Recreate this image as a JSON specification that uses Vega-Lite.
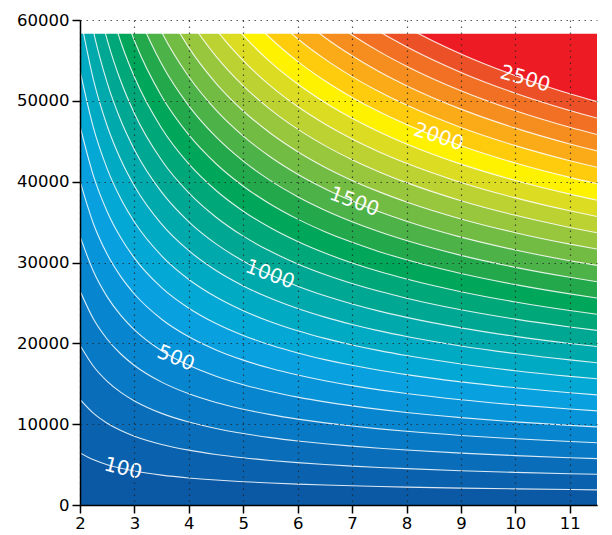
{
  "$schema": "https://vega.github.io/schema/vega-lite/v6.json",
  "width": 517,
  "height": 485,
  "autosize": "none",
  "padding": {"left": 80, "top": 20, "right": 15, "bottom": 30},
  "background": "white",
  "config": {
    "view": {"stroke": null},
    "axis": {
      "grid": true,
      "gridColor": "#222222",
      "gridDash": [1.5, 4.5],
      "gridWidth": 1.2,
      "gridOpacity": 0.75,
      "domainColor": "black",
      "domainWidth": 1.5,
      "tickColor": "black",
      "tickWidth": 1.5,
      "tickSize": 8,
      "labelFont": "DejaVu Sans",
      "labelFontSize": 16.5,
      "labelColor": "black",
      "labelFlush": false,
      "labelOverlap": false,
      "title": null
    }
  },
  "datasets": {
    "bands": [
      {"x":7.5,"l":2500,"y":73549},{"x":8,"l":2500,"y":71182},{"x":9,"l":2500,"y":67197},{"x":10,"l":2500,"y":63970},{"x":11,"l":2500,"y":61285},{"x":11.5,"l":2500,"y":60104},
      {"x":7,"l":2400,"y":63312},{"x":7.5,"l":2400,"y":61068},{"x":8,"l":2400,"y":59103},{"x":9,"l":2400,"y":55794},{"x":10,"l":2400,"y":53114},{"x":11,"l":2400,"y":50885},{"x":11.5,"l":2400,"y":49904},
      {"x":6.5,"l":2300,"y":63203},{"x":7,"l":2300,"y":60728},{"x":7.5,"l":2300,"y":58577},{"x":8,"l":2300,"y":56692},{"x":9,"l":2300,"y":53518},{"x":10,"l":2300,"y":50948},{"x":11,"l":2300,"y":48810},{"x":11.5,"l":2300,"y":47869},
      {"x":6,"l":2200,"y":63291},{"x":6.5,"l":2200,"y":60519},{"x":7,"l":2200,"y":58148},{"x":7.5,"l":2200,"y":56089},{"x":8,"l":2200,"y":54284},{"x":9,"l":2200,"y":51245},{"x":10,"l":2200,"y":48784},{"x":11,"l":2200,"y":46737},{"x":11.5,"l":2200,"y":45835},
      {"x":5.5,"l":2100,"y":63635},{"x":6,"l":2100,"y":60485},{"x":6.5,"l":2100,"y":57836},{"x":7,"l":2100,"y":55570},{"x":7.5,"l":2100,"y":53602},{"x":8,"l":2100,"y":51877},{"x":9,"l":2100,"y":48973},{"x":10,"l":2100,"y":46621},{"x":11,"l":2100,"y":44664},{"x":11.5,"l":2100,"y":43803},
      {"x":5,"l":2000,"y":64326},{"x":5.5,"l":2000,"y":60686},{"x":6,"l":2000,"y":57682},{"x":6.5,"l":2000,"y":55156},{"x":7,"l":2000,"y":52995},{"x":7.5,"l":2000,"y":51118},{"x":8,"l":2000,"y":49473},{"x":9,"l":2000,"y":46704},{"x":10,"l":2000,"y":44461},{"x":11,"l":2000,"y":42595},{"x":11.5,"l":2000,"y":41773},
      {"x":4.5,"l":1900,"y":65507},{"x":5,"l":1900,"y":61203},{"x":5.5,"l":1900,"y":57740},{"x":6,"l":1900,"y":54881},{"x":6.5,"l":1900,"y":52478},{"x":7,"l":1900,"y":50422},{"x":7.5,"l":1900,"y":48636},{"x":8,"l":1900,"y":47071},{"x":9,"l":1900,"y":44436},{"x":10,"l":1900,"y":42302},{"x":11,"l":1900,"y":40527},{"x":11.5,"l":1900,"y":39745},
      {"x":4,"l":1800,"y":67424},{"x":4.5,"l":1800,"y":62168},{"x":5,"l":1800,"y":58084},{"x":5.5,"l":1800,"y":54797},{"x":6,"l":1800,"y":52084},{"x":6.5,"l":1800,"y":49803},{"x":7,"l":1800,"y":47852},{"x":7.5,"l":1800,"y":46157},{"x":8,"l":1800,"y":44672},{"x":9,"l":1800,"y":42171},{"x":10,"l":1800,"y":40146},{"x":11,"l":1800,"y":38461},{"x":11.5,"l":1800,"y":37719},
      {"x":4,"l":1700,"y":63807},{"x":4.5,"l":1700,"y":58833},{"x":5,"l":1700,"y":54967},{"x":5.5,"l":1700,"y":51857},{"x":6,"l":1700,"y":49290},{"x":6.5,"l":1700,"y":47131},{"x":7,"l":1700,"y":45285},{"x":7.5,"l":1700,"y":43681},{"x":8,"l":1700,"y":42275},{"x":9,"l":1700,"y":39908},{"x":10,"l":1700,"y":37992},{"x":11,"l":1700,"y":36397},{"x":11.5,"l":1700,"y":35696},
      {"x":3.5,"l":1600,"y":66495},{"x":4,"l":1600,"y":60193},{"x":4.5,"l":1600,"y":55501},{"x":5,"l":1600,"y":51854},{"x":5.5,"l":1600,"y":48920},{"x":6,"l":1600,"y":46498},{"x":6.5,"l":1600,"y":44461},{"x":7,"l":1600,"y":42720},{"x":7.5,"l":1600,"y":41207},{"x":8,"l":1600,"y":39881},{"x":9,"l":1600,"y":37648},{"x":10,"l":1600,"y":35840},{"x":11,"l":1600,"y":34336},{"x":11.5,"l":1600,"y":33674},
      {"x":3,"l":1500,"y":70991},{"x":3.5,"l":1500,"y":62508},{"x":4,"l":1500,"y":56584},{"x":4.5,"l":1500,"y":52173},{"x":5,"l":1500,"y":48745},{"x":5.5,"l":1500,"y":45986},{"x":6,"l":1500,"y":43710},{"x":6.5,"l":1500,"y":41795},{"x":7,"l":1500,"y":40158},{"x":7.5,"l":1500,"y":38736},{"x":8,"l":1500,"y":37490},{"x":9,"l":1500,"y":35391},{"x":10,"l":1500,"y":33691},{"x":11,"l":1500,"y":32277},{"x":11.5,"l":1500,"y":31655},
      {"x":3,"l":1400,"y":66468},{"x":3.5,"l":1400,"y":58525},{"x":4,"l":1400,"y":52979},{"x":4.5,"l":1400,"y":48849},{"x":5,"l":1400,"y":45639},{"x":5.5,"l":1400,"y":43056},{"x":6,"l":1400,"y":40925},{"x":6.5,"l":1400,"y":39133},{"x":7,"l":1400,"y":37600},{"x":7.5,"l":1400,"y":36268},{"x":8,"l":1400,"y":35101},{"x":9,"l":1400,"y":33136},{"x":10,"l":1400,"y":31545},{"x":11,"l":1400,"y":30221},{"x":11.5,"l":1400,"y":29638},
      {"x":2.75,"l":1300,"y":67033},{"x":3,"l":1300,"y":61952},{"x":3.5,"l":1300,"y":54549},{"x":4,"l":1300,"y":49379},{"x":4.5,"l":1300,"y":45529},{"x":5,"l":1300,"y":42538},{"x":5.5,"l":1300,"y":40131},{"x":6,"l":1300,"y":38144},{"x":6.5,"l":1300,"y":36473},{"x":7,"l":1300,"y":35045},{"x":7.5,"l":1300,"y":33804},{"x":8,"l":1300,"y":32716},{"x":9,"l":1300,"y":30884},{"x":10,"l":1300,"y":29401},{"x":11,"l":1300,"y":28167},{"x":11.5,"l":1300,"y":27624},
      {"x":2.5,"l":1200,"y":68234},{"x":2.75,"l":1200,"y":62153},{"x":3,"l":1200,"y":57441},{"x":3.5,"l":1200,"y":50577},{"x":4,"l":1200,"y":45784},{"x":4.5,"l":1200,"y":42215},{"x":5,"l":1200,"y":39441},{"x":5.5,"l":1200,"y":37209},{"x":6,"l":1200,"y":35367},{"x":6.5,"l":1200,"y":33818},{"x":7,"l":1200,"y":32493},{"x":7.5,"l":1200,"y":31342},{"x":8,"l":1200,"y":30334},{"x":9,"l":1200,"y":28636},{"x":10,"l":1200,"y":27261},{"x":11,"l":1200,"y":26117},{"x":11.5,"l":1200,"y":25613},
      {"x":2.25,"l":1100,"y":70443},{"x":2.5,"l":1100,"y":62885},{"x":2.75,"l":1100,"y":57280},{"x":3,"l":1100,"y":52938},{"x":3.5,"l":1100,"y":46612},{"x":4,"l":1100,"y":42194},{"x":4.5,"l":1100,"y":38905},{"x":5,"l":1100,"y":36349},{"x":5.5,"l":1100,"y":34292},{"x":6,"l":1100,"y":32594},{"x":6.5,"l":1100,"y":31167},{"x":7,"l":1100,"y":29946},{"x":7.5,"l":1100,"y":28885},{"x":8,"l":1100,"y":27956},{"x":9,"l":1100,"y":26391},{"x":10,"l":1100,"y":25123},{"x":11,"l":1100,"y":24069},{"x":11.5,"l":1100,"y":23605},
      {"x":2,"l":1000,"y":74349},{"x":2.25,"l":1000,"y":64460},{"x":2.5,"l":1000,"y":57544},{"x":2.75,"l":1000,"y":52415},{"x":3,"l":1000,"y":48442},{"x":3.5,"l":1000,"y":42653},{"x":4,"l":1000,"y":38611},{"x":4.5,"l":1000,"y":35601},{"x":5,"l":1000,"y":33262},{"x":5.5,"l":1000,"y":31380},{"x":6,"l":1000,"y":29826},{"x":6.5,"l":1000,"y":28520},{"x":7,"l":1000,"y":27403},{"x":7.5,"l":1000,"y":26432},{"x":8,"l":1000,"y":25582},{"x":9,"l":1000,"y":24149},{"x":10,"l":1000,"y":22990},{"x":11,"l":1000,"y":22025},{"x":11.5,"l":1000,"y":21600},
      {"x":2,"l":900,"y":67461},{"x":2.25,"l":900,"y":58489},{"x":2.5,"l":900,"y":52213},{"x":2.75,"l":900,"y":47560},{"x":3,"l":900,"y":43954},{"x":3.5,"l":900,"y":38702},{"x":4,"l":900,"y":35034},{"x":4.5,"l":900,"y":32303},{"x":5,"l":900,"y":30180},{"x":5.5,"l":900,"y":28473},{"x":6,"l":900,"y":27063},{"x":6.5,"l":900,"y":25878},{"x":7,"l":900,"y":24864},{"x":7.5,"l":900,"y":23983},{"x":8,"l":900,"y":23212},{"x":9,"l":900,"y":21912},{"x":10,"l":900,"y":20860},{"x":11,"l":900,"y":19985},{"x":11.5,"l":900,"y":19599},
      {"x":2,"l":800,"y":60587},{"x":2.25,"l":800,"y":52529},{"x":2.5,"l":800,"y":46893},{"x":2.75,"l":800,"y":42713},{"x":3,"l":800,"y":39476},{"x":3.5,"l":800,"y":34758},{"x":4,"l":800,"y":31464},{"x":4.5,"l":800,"y":29011},{"x":5,"l":800,"y":27105},{"x":5.5,"l":800,"y":25571},{"x":6,"l":800,"y":24305},{"x":6.5,"l":800,"y":23241},{"x":7,"l":800,"y":22331},{"x":7.5,"l":800,"y":21540},{"x":8,"l":800,"y":20847},{"x":9,"l":800,"y":19679},{"x":10,"l":800,"y":18734},{"x":11,"l":800,"y":17948},{"x":11.5,"l":800,"y":17602},
      {"x":2,"l":700,"y":53729},{"x":2.25,"l":700,"y":46583},{"x":2.5,"l":700,"y":41585},{"x":2.75,"l":700,"y":37879},{"x":3,"l":700,"y":35007},{"x":3.5,"l":700,"y":30824},{"x":4,"l":700,"y":27903},{"x":4.5,"l":700,"y":25727},{"x":5,"l":700,"y":24037},{"x":5.5,"l":700,"y":22677},{"x":6,"l":700,"y":21554},{"x":6.5,"l":700,"y":20610},{"x":7,"l":700,"y":19803},{"x":7.5,"l":700,"y":19101},{"x":8,"l":700,"y":18487},{"x":9,"l":700,"y":17452},{"x":10,"l":700,"y":16614},{"x":11,"l":700,"y":15917},{"x":11.5,"l":700,"y":15610},
      {"x":2,"l":600,"y":46887},{"x":2.25,"l":600,"y":40651},{"x":2.5,"l":600,"y":36289},{"x":2.75,"l":600,"y":33055},{"x":3,"l":600,"y":30549},{"x":3.5,"l":600,"y":26899},{"x":4,"l":600,"y":24349},{"x":4.5,"l":600,"y":22451},{"x":5,"l":600,"y":20976},{"x":5.5,"l":600,"y":19789},{"x":6,"l":600,"y":18810},{"x":6.5,"l":600,"y":17986},{"x":7,"l":600,"y":17281},{"x":7.5,"l":600,"y":16669},{"x":8,"l":600,"y":16133},{"x":9,"l":600,"y":15230},{"x":10,"l":600,"y":14498},{"x":11,"l":600,"y":13890},{"x":11.5,"l":600,"y":13622},
      {"x":2,"l":500,"y":40065},{"x":2.25,"l":500,"y":34736},{"x":2.5,"l":500,"y":31009},{"x":2.75,"l":500,"y":28246},{"x":3,"l":500,"y":26105},{"x":3.5,"l":500,"y":22985},{"x":4,"l":500,"y":20807},{"x":4.5,"l":500,"y":19185},{"x":5,"l":500,"y":17924},{"x":5.5,"l":500,"y":16910},{"x":6,"l":500,"y":16073},{"x":6.5,"l":500,"y":15369},{"x":7,"l":500,"y":14767},{"x":7.5,"l":500,"y":14244},{"x":8,"l":500,"y":13785},{"x":9,"l":500,"y":13014},{"x":10,"l":500,"y":12389},{"x":11,"l":500,"y":11869},{"x":11.5,"l":500,"y":11640},
      {"x":2,"l":400,"y":33269},{"x":2.25,"l":400,"y":28844},{"x":2.5,"l":400,"y":25749},{"x":2.75,"l":400,"y":23454},{"x":3,"l":400,"y":21676},{"x":3.5,"l":400,"y":19086},{"x":4,"l":400,"y":17277},{"x":4.5,"l":400,"y":15930},{"x":5,"l":400,"y":14884},{"x":5.5,"l":400,"y":14041},{"x":6,"l":400,"y":13346},{"x":6.5,"l":400,"y":12762},{"x":7,"l":400,"y":12262},{"x":7.5,"l":400,"y":11828},{"x":8,"l":400,"y":11447},{"x":9,"l":400,"y":10806},{"x":10,"l":400,"y":10287},{"x":11,"l":400,"y":9856},{"x":11.5,"l":400,"y":9666},
      {"x":2,"l":300,"y":26495},{"x":2.25,"l":300,"y":22971},{"x":2.5,"l":300,"y":20506},{"x":2.75,"l":300,"y":18679},{"x":3,"l":300,"y":17263},{"x":3.5,"l":300,"y":15200},{"x":4,"l":300,"y":13759},{"x":4.5,"l":300,"y":12687},{"x":5,"l":300,"y":11853},{"x":5.5,"l":300,"y":11182},{"x":6,"l":300,"y":10629},{"x":6.5,"l":300,"y":10163},{"x":7,"l":300,"y":9765},{"x":7.5,"l":300,"y":9419},{"x":8,"l":300,"y":9116},{"x":9,"l":300,"y":8606},{"x":10,"l":300,"y":8193},{"x":11,"l":300,"y":7849},{"x":11.5,"l":300,"y":7697},
      {"x":2,"l":200,"y":19757},{"x":2.25,"l":200,"y":17129},{"x":2.5,"l":200,"y":15291},{"x":2.75,"l":200,"y":13929},{"x":3,"l":200,"y":12873},{"x":3.5,"l":200,"y":11335},{"x":4,"l":200,"y":10260},{"x":4.5,"l":200,"y":9460},{"x":5,"l":200,"y":8839},{"x":5.5,"l":200,"y":8339},{"x":6,"l":200,"y":7926},{"x":6.5,"l":200,"y":7579},{"x":7,"l":200,"y":7282},{"x":7.5,"l":200,"y":7024},{"x":8,"l":200,"y":6798},{"x":9,"l":200,"y":6417},{"x":10,"l":200,"y":6109},{"x":11,"l":200,"y":5853},{"x":11.5,"l":200,"y":5740},
      {"x":2,"l":100,"y":13065},{"x":2.25,"l":100,"y":11327},{"x":2.5,"l":100,"y":10112},{"x":2.75,"l":100,"y":9211},{"x":3,"l":100,"y":8512},{"x":3.5,"l":100,"y":7495},{"x":4,"l":100,"y":6785},{"x":4.5,"l":100,"y":6256},{"x":5,"l":100,"y":5845},{"x":5.5,"l":100,"y":5514},{"x":6,"l":100,"y":5241},{"x":6.5,"l":100,"y":5012},{"x":7,"l":100,"y":4815},{"x":7.5,"l":100,"y":4645},{"x":8,"l":100,"y":4495},{"x":9,"l":100,"y":4244},{"x":10,"l":100,"y":4040},{"x":11,"l":100,"y":3870},{"x":11.5,"l":100,"y":3796},
      {"x":2,"l":0,"y":6443},{"x":2.25,"l":0,"y":5586},{"x":2.5,"l":0,"y":4986},{"x":2.75,"l":0,"y":4542},{"x":3,"l":0,"y":4198},{"x":3.5,"l":0,"y":3696},{"x":4,"l":0,"y":3346},{"x":4.5,"l":0,"y":3085},{"x":5,"l":0,"y":2882},{"x":5.5,"l":0,"y":2719},{"x":6,"l":0,"y":2585},{"x":6.5,"l":0,"y":2471},{"x":7,"l":0,"y":2375},{"x":7.5,"l":0,"y":2290},{"x":8,"l":0,"y":2217},{"x":9,"l":0,"y":2093},{"x":10,"l":0,"y":1992},{"x":11,"l":0,"y":1909},{"x":11.5,"l":0,"y":1872}
    ],
    "labels": [
      {"t": "100", "l": 100, "x": 2.79, "y": 4490},
      {"t": "500", "l": 500, "x": 3.76, "y": 18146},
      {"t": "1000", "l": 1000, "x": 5.49, "y": 28503},
      {"t": "1500", "l": 1500, "x": 7.04, "y": 37494},
      {"t": "2000", "l": 2000, "x": 8.59, "y": 45517},
      {"t": "2500", "l": 2500, "x": 10.18, "y": 52714}
    ]
  },
  "layer": [
    {
      "data": {"name": "bands"},
      "mark": {"type": "area", "interpolate": "monotone", "clip": true},
      "encoding": {
        "x": {"field": "x", "type": "quantitative", "scale": {"domain": [2, 11.5], "nice": false, "zero": false},
              "axis": {"values": [2,3,4,5,6,7,8,9,10,11], "format": "d", "zindex": 1}},
        "y": {"field": "y", "type": "quantitative", "stack": null, "scale": {"domain": [0, 60000], "nice": false},
              "axis": {"values": [0,10000,20000,30000,40000,50000,60000], "format": "d", "labelPadding": 3, "zindex": 1}},
        "color": {"field": "l", "type": "ordinal", "legend": null,
                  "scale": {"domain": [0,100,200,300,400,500,600,700,800,900,1000,1100,1200,1300,1400,1500,1600,1700,1800,1900,2000,2100,2200,2300,2400,2500],
                            "range": ["#0b58a4","#0a62ae","#096db9","#0879c4","#0786cf","#0894d9","#08a0de","#03a8d4","#00aac3","#00a9ac","#00a894","#00a778","#00a65a","#23a94c","#4db248","#73bc44","#98c63d","#bcd232","#dcdd23","#fff200","#fecb0d","#fbab18","#f68e1f","#f27024","#eb5027","#ed1c24"]}}
      }
    },
    {
      "data": {"name": "bands"},
      "transform": [{"filter": "datum.l < 2500"}],
      "mark": {"type": "line", "interpolate": "monotone", "clip": true, "color": "white", "strokeWidth": 1.1, "opacity": 0.85},
      "encoding": {
        "x": {"field": "x", "type": "quantitative"},
        "y": {"field": "y", "type": "quantitative"},
        "detail": {"field": "l", "type": "nominal"}
      }
    },
    {
      "data": {"values": [{}]},
      "mark": {"type": "rect", "color": "white"},
      "encoding": {
        "x": {"datum": 2},
        "x2": {"datum": 11.5},
        "y": {"datum": 58300},
        "y2": {"datum": 60000}
      }
    },
    {
      "data": {"name": "labels"},
      "mark": {"type": "text", "color": "white", "font": "DejaVu Sans", "fontSize": 20, "align": "center", "baseline": "middle"},
      "encoding": {
        "x": {"field": "x", "type": "quantitative"},
        "y": {"field": "y", "type": "quantitative"},
        "text": {"field": "t"},
        "angle": {"field": "l", "type": "quantitative", "legend": null,
                  "scale": {"type": "threshold", "domain": [300, 750, 1250, 1750, 2250], "range": [14, 22, 20, 20, 18, 16]}}
      }
    }
  ]
}
